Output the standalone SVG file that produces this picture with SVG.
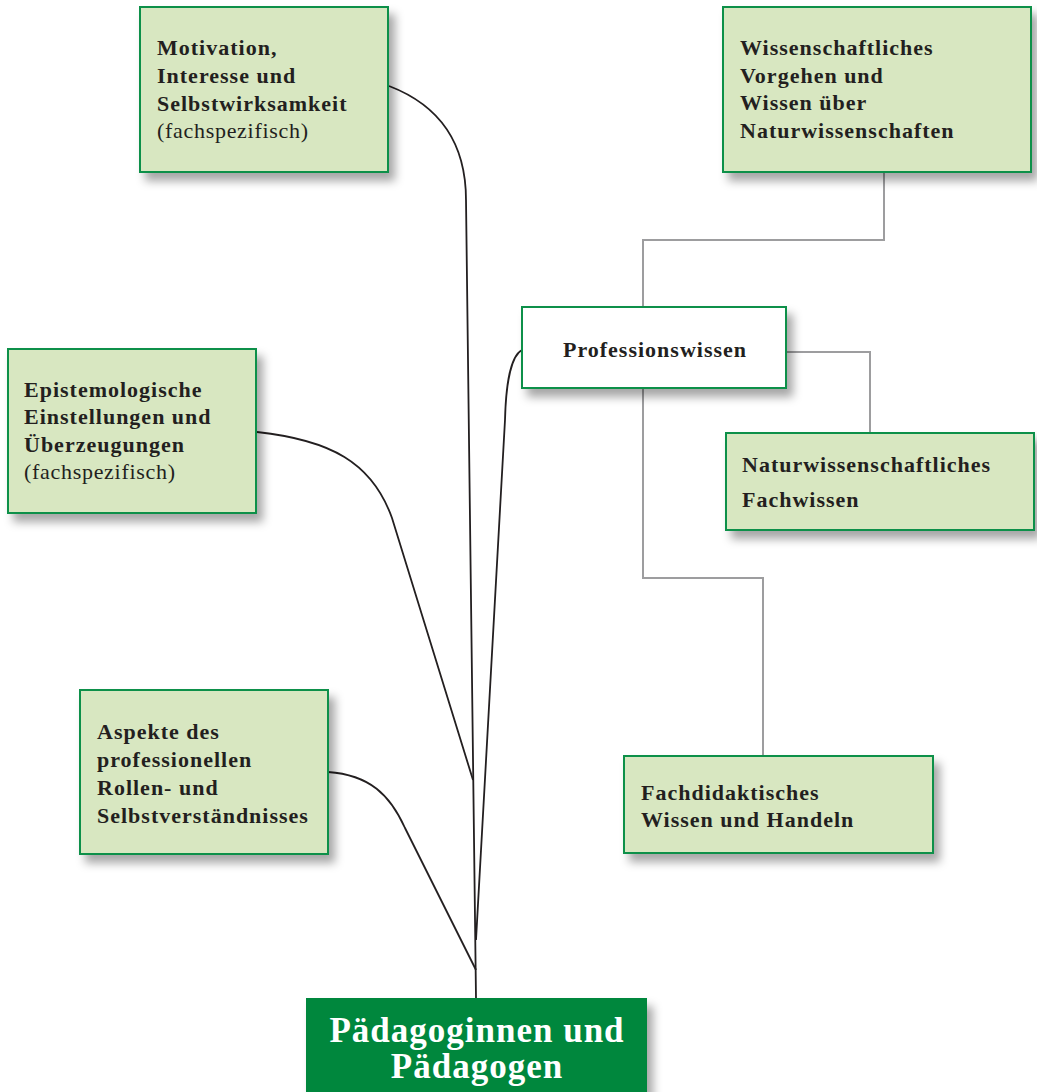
<svg xmlns="http://www.w3.org/2000/svg" width="1037" height="1092" viewBox="0 0 1037 1092">
<defs>
<filter id="sh" x="-10%" y="-10%" width="130%" height="140%">
<feDropShadow dx="6" dy="8" stdDeviation="5" flood-color="#000" flood-opacity="0.35"/>
</filter>
<style>
.box{fill:#d8e7c1;stroke:#11904a;stroke-width:2;filter:url(#sh)}
.wbox{fill:#ffffff;stroke:#11904a;stroke-width:2;filter:url(#sh)}
.gbox{fill:#00873e;filter:url(#sh)}
.t{font-family:"Liberation Serif","Times New Roman",serif;font-size:22px;fill:#231f20;font-weight:bold;letter-spacing:1px}
.r{font-weight:normal;letter-spacing:0.7px}
.big{font-family:"Liberation Serif","Times New Roman",serif;font-size:35px;fill:#ffffff;font-weight:bold;letter-spacing:1px;text-anchor:middle}
.k{fill:none;stroke:#231f20;stroke-width:1.8}
.g{fill:none;stroke:#9d9d9f;stroke-width:2}
</style>
</defs>
<rect width="1037" height="1092" fill="#ffffff"/>
<g id="connectors">
<path class="g" d="M884,172 V240 H643 V307"/>
<path class="g" d="M786,352 H870 V433"/>
<path class="g" d="M643,388 V578 H763 V756"/>
<path class="k" d="M389,86 C436,104 466,140 466,200 L476,998"/>
<path class="k" d="M257,432 C330,440 372,462 392,518 L473,780"/>
<path class="k" d="M328,772 C370,775 390,795 405,828 L476,970"/>
<path class="k" d="M522,350 C512,355 506,380 505,420 L476,940"/>
</g>
<g id="n-motivation">
<rect class="box" x="140" y="7" width="248" height="165"/>
<text class="t" x="157" y="55">Motivation,</text>
<text class="t" x="157" y="83">Interesse und</text>
<text class="t" x="157" y="111">Selbstwirksamkeit</text>
<text class="t r" x="157" y="138">(fachspezifisch)</text>
</g>
<g id="n-wissenschaftliches">
<rect class="box" x="723" y="7" width="308" height="165"/>
<text class="t" x="740" y="55">Wissenschaftliches</text>
<text class="t" x="740" y="83">Vorgehen und</text>
<text class="t" x="740" y="110">Wissen über</text>
<text class="t" x="740" y="138">Naturwissenschaften</text>
</g>
<g id="n-profession">
<rect class="wbox" x="522" y="307" width="264" height="81"/>
<text class="t" x="655" y="357" text-anchor="middle">Professionswissen</text>
</g>
<g id="n-epistemologische">
<rect class="box" x="8" y="349" width="248" height="164"/>
<text class="t" x="24" y="397">Epistemologische</text>
<text class="t" x="24" y="424">Einstellungen und</text>
<text class="t" x="24" y="452">Überzeugungen</text>
<text class="t r" x="24" y="479">(fachspezifisch)</text>
</g>
<g id="n-fachwissen">
<rect class="box" x="726" y="433" width="308" height="97"/>
<text class="t" x="742" y="472">Naturwissenschaftliches</text>
<text class="t" x="742" y="507">Fachwissen</text>
</g>
<g id="n-aspekte">
<rect class="box" x="80" y="690" width="248" height="164"/>
<text class="t" x="97" y="739">Aspekte des</text>
<text class="t" x="97" y="767">professionellen</text>
<text class="t" x="97" y="795">Rollen- und</text>
<text class="t" x="97" y="823">Selbstverständnisses</text>
</g>
<g id="n-fachdidaktik">
<rect class="box" x="624" y="756" width="309" height="97"/>
<text class="t" x="641" y="800">Fachdidaktisches</text>
<text class="t" x="641" y="827">Wissen und Handeln</text>
</g>
<g id="n-paedagogen">
<rect class="gbox" x="306" y="998" width="341" height="110"/>
<text class="big" x="477" y="1042">Pädagoginnen und</text>
<text class="big" x="477" y="1078">Pädagogen</text>
</g>
</svg>
